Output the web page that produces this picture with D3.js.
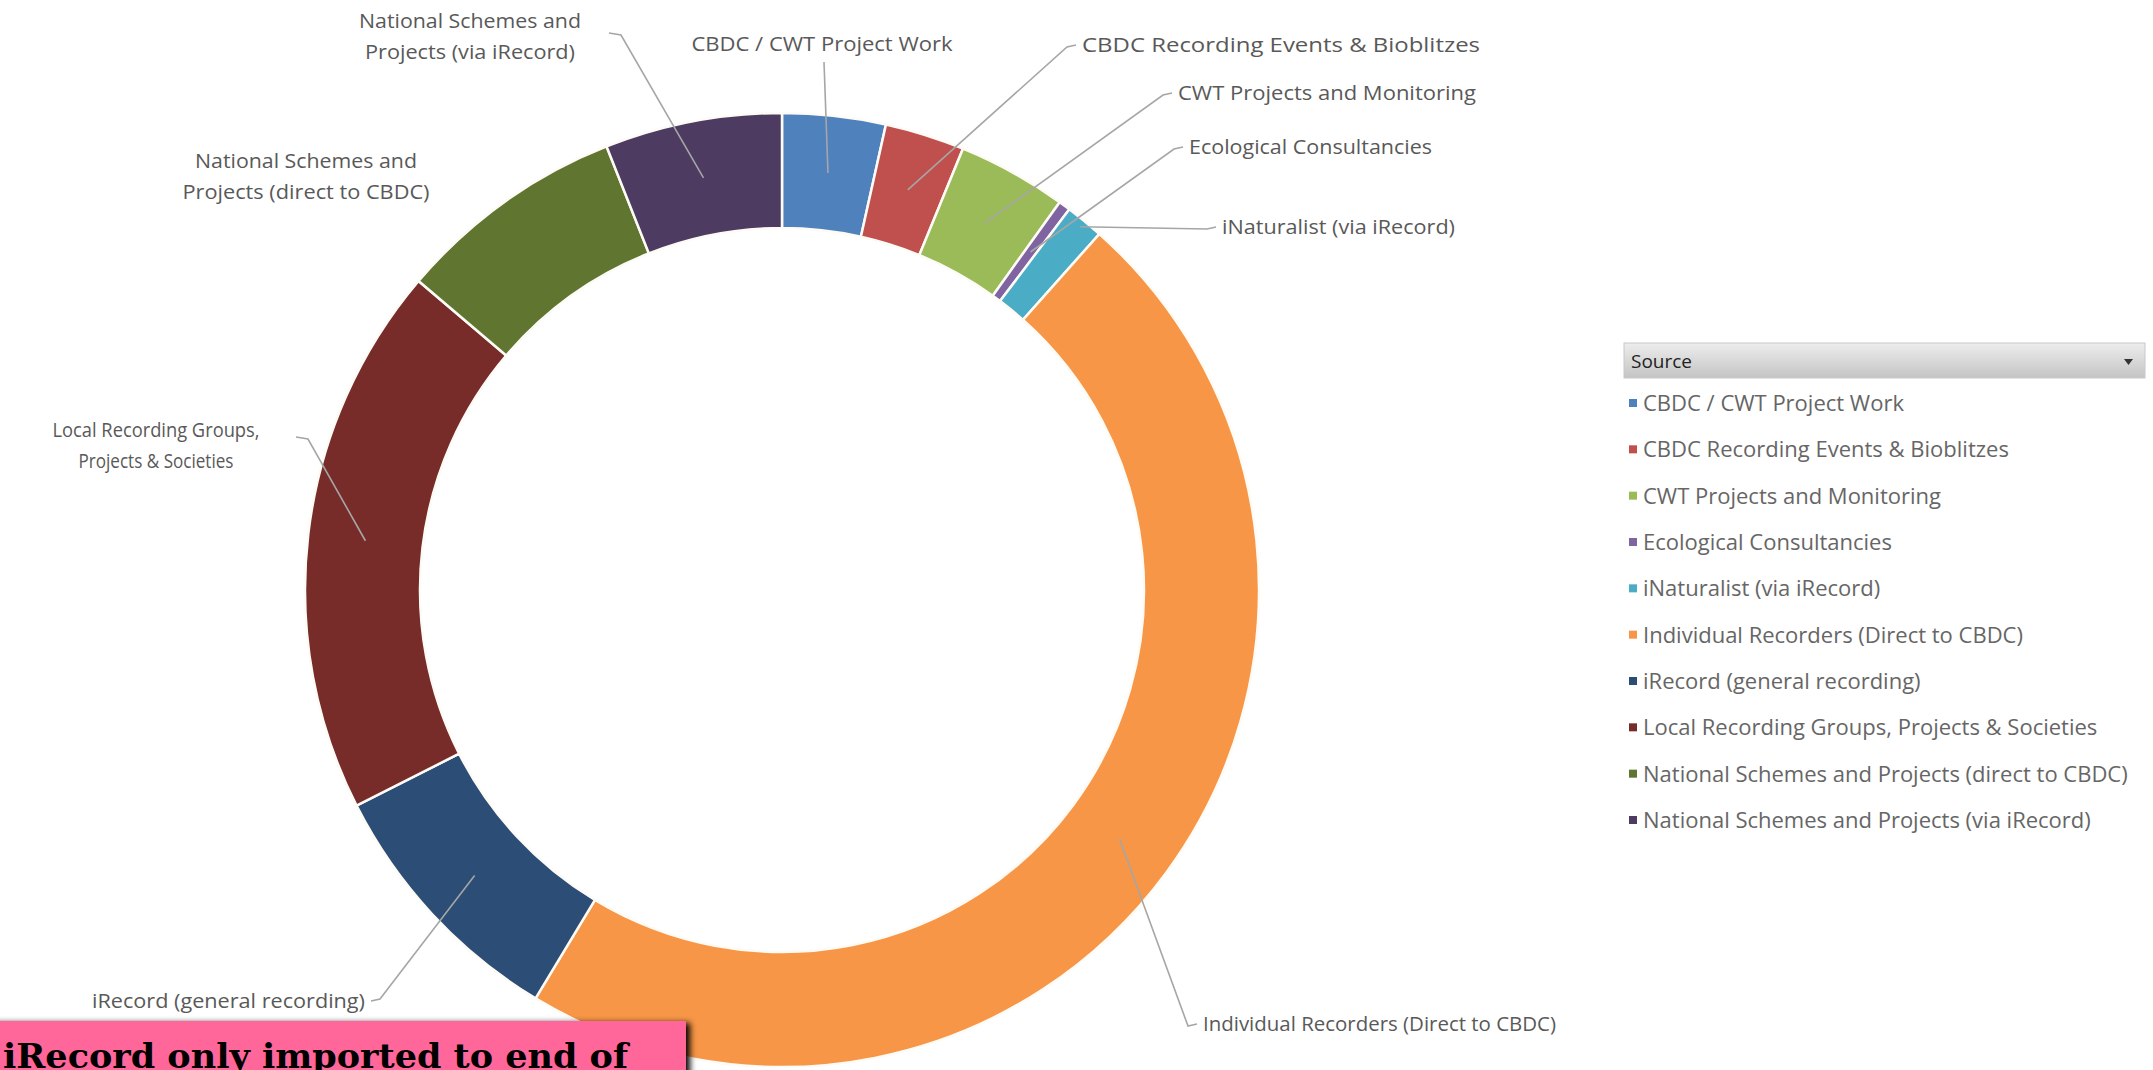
<!DOCTYPE html>
<html>
<head>
<meta charset="utf-8">
<script src="https://cdn.jsdelivr.net/npm/d3@7"></script>
<style>
  html, body { margin: 0; padding: 0; background: #ffffff; }
  svg { display: block; }
</style>
</head>
<body>
<svg id="chart" width="2153" height="1070"></svg>
<script>
// ---------- DATA ----------
const categories = [
  "CBDC / CWT Project Work",
  "CBDC Recording Events & Bioblitzes",
  "CWT Projects and Monitoring",
  "Ecological Consultancies",
  "iNaturalist (via iRecord)",
  "Individual Recorders (Direct to CBDC)",
  "iRecord (general recording)",
  "Local Recording Groups, Projects & Societies",
  "National Schemes and Projects (direct to CBDC)",
  "National Schemes and Projects (via iRecord)"
];
// share of records (%) read from the ring
const values = [3.5, 2.7, 3.7, 0.4, 1.3, 47.1, 8.9, 18.7, 7.8, 6.0];
const colors = ["#4F81BD", "#C0504D", "#9BBB59", "#8064A2", "#4BACC6",
                "#F79646", "#2C4D75", "#772C2A", "#5F7530", "#4D3B62"];
const chartLabels = [
  ["CBDC / CWT Project Work"],
  ["CBDC Recording Events & Bioblitzes"],
  ["CWT Projects and Monitoring"],
  ["Ecological Consultancies"],
  ["iNaturalist (via iRecord)"],
  ["Individual Recorders (Direct to CBDC)"],
  ["iRecord (general recording)"],
  ["Local Recording Groups,", "Projects & Societies"],
  ["National Schemes and", "Projects (direct to CBDC)"],
  ["National Schemes and", "Projects (via iRecord)"]
];
const legendTitle = "Source";
const bannerText = "iRecord only imported to end of";

// ---------- LAYOUT ----------
const cx = 782, cy = 590, outerR = 477, innerR = 362;
const labelLayout = [
  {x: 822,  y: 51,   anchor: "middle", w: [261], lead: "down", lx: 824, ly: 62},
  {x: 1082, y: 52,   anchor: "start",  w: [398], lead: "side"},
  {x: 1178, y: 100,  anchor: "start",  w: [298], lead: "side"},
  {x: 1189, y: 154,  anchor: "start",  w: [243], lead: "side"},
  {x: 1222, y: 234,  anchor: "start",  w: [233], lead: "side", rEnd: 470},
  {x: 1203, y: 1031, anchor: "start",  w: [353], lead: "side"},
  {x: 365,  y: 1008, anchor: "end",    w: [273], lead: "side"},
  {x: 156,  y: 437,  anchor: "middle", w: [207, 155], lead: "tick", lx: 296, ly: 437},
  {x: 306,  y: 168,  anchor: "middle", w: [222, 247], lead: "none"},
  {x: 470,  y: 28,   anchor: "middle", w: [222, 210], lead: "tick", lx: 609, ly: 33}
];
const lineGap = 31;

const svg = d3.select("#chart");
const defs = svg.append("defs");

// ---------- DONUT ----------
const pie = d3.pie().sort(null).value(d => d).startAngle(0).endAngle(2 * Math.PI);
const arcs = pie(values);
const arc = d3.arc().innerRadius(innerR).outerRadius(outerR);

const g = svg.append("g").attr("transform", `translate(${cx},${cy})`);
g.selectAll("path.slice")
  .data(arcs)
  .enter().append("path")
  .attr("class", "slice")
  .attr("d", arc)
  .attr("fill", (d, i) => colors[i])
  .attr("stroke", "#fdfbf5")
  .attr("stroke-width", 2.5);

// ---------- LEADERS ----------
const leaderG = svg.append("g");
arcs.forEach((d, i) => {
  const L = labelLayout[i];
  if (L.lead === "none") return;
  const mid = (d.startAngle + d.endAngle) / 2;
  const rr = L.rEnd || (innerR + outerR) / 2;
  const ex = cx + rr * Math.sin(mid), ey = cy - rr * Math.cos(mid);
  let pts;
  const yc = L.y - 7;
  if (L.lead === "side") {
    if (L.anchor === "start") pts = [[L.x - 6, yc], [L.x - 15, yc + 2], [ex, ey]];
    else pts = [[L.x + 6, yc], [L.x + 15, yc - 2], [ex, ey]];
  } else if (L.lead === "down") {
    pts = [[L.lx, L.ly], [ex, ey]];
  } else {
    pts = [[L.lx, L.ly], [L.lx + 12, L.ly + 2], [ex, ey]];
  }
  leaderG.append("path")
    .attr("d", d3.line()(pts))
    .attr("fill", "none")
    .attr("stroke", "#A6A6A6")
    .attr("stroke-width", 1.6);
});

// ---------- LABELS ----------
const labelG = svg.append("g")
  .attr("font-family", "'Open Sans', 'Noto Sans', sans-serif")
  .attr("font-size", 20)
  .attr("fill", "#595959");
chartLabels.forEach((lines, i) => {
  const L = labelLayout[i];
  lines.forEach((t, j) => {
    labelG.append("text")
      .attr("x", L.x)
      .attr("y", L.y + j * lineGap)
      .attr("text-anchor", L.anchor)
      .attr("textLength", L.w[j])
      .attr("lengthAdjust", "spacingAndGlyphs")
      .text(t);
  });
});

// ---------- LEGEND ----------
const lg = svg.append("g");
const grad = defs.append("linearGradient").attr("id", "hdr").attr("x1", 0).attr("x2", 0).attr("y1", 0).attr("y2", 1);
grad.append("stop").attr("offset", "0%").attr("stop-color", "#EDEDED");
grad.append("stop").attr("offset", "100%").attr("stop-color", "#C4C4C4");
lg.append("rect")
  .attr("x", 1624).attr("y", 343).attr("width", 521).attr("height", 35)
  .attr("fill", "url(#hdr)").attr("stroke", "#C8C8C8").attr("stroke-width", 1);
lg.append("text")
  .attr("x", 1631).attr("y", 368)
  .attr("font-family", "'Open Sans', sans-serif").attr("font-size", 19)
  .attr("fill", "#222").text(legendTitle);
lg.append("path")
  .attr("d", "M2124,359 L2133,359 L2128.5,365 Z")
  .attr("fill", "#333");

const legendY = d3.scalePoint().domain(categories).range([403, 820]);
const items = lg.selectAll("g.item").data(categories).enter().append("g").attr("class", "item");
items.append("rect")
  .attr("x", 1629).attr("y", d => legendY(d) - 4)
  .attr("width", 8).attr("height", 8)
  .attr("fill", (d, i) => colors[i]);
items.append("text")
  .attr("x", 1643).attr("y", d => legendY(d) + 8)
  .attr("font-family", "'Open Sans', sans-serif").attr("font-size", 22)
  .attr("fill", "#666").text(d => d);

// ---------- BANNER ----------
const shadow = defs.append("filter").attr("id", "sh").attr("x", "-10%").attr("y", "-50%").attr("width", "130%").attr("height", "200%");
shadow.append("feGaussianBlur").attr("in", "SourceAlpha").attr("stdDeviation", 3);
shadow.append("feOffset").attr("dx", 4).attr("dy", 2).attr("result", "o");
const fm = shadow.append("feMerge");
fm.append("feMergeNode").attr("in", "o");
fm.append("feMergeNode").attr("in", "SourceGraphic");

svg.append("rect")
  .attr("x", -10).attr("y", 1021).attr("width", 696).attr("height", 80)
  .attr("fill", "#FF6699").attr("filter", "url(#sh)");
svg.append("text")
  .attr("x", 3).attr("y", 1068)
  .attr("font-family", "'DejaVu Serif', serif").attr("font-weight", "bold")
  .attr("font-size", 33).attr("fill", "#000")
  .attr("textLength", 625).attr("lengthAdjust", "spacingAndGlyphs")
  .text(bannerText);
</script>
</body>
</html>
